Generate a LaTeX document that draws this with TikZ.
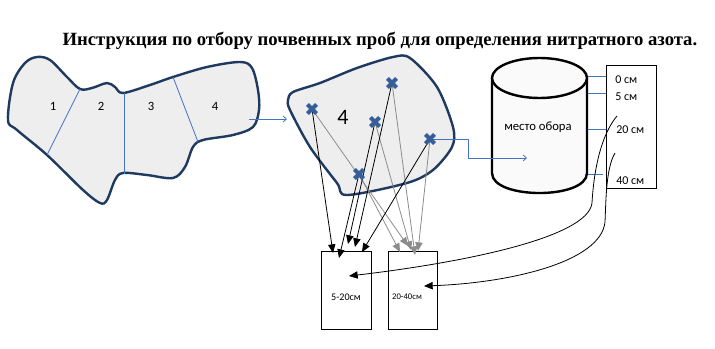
\documentclass[tikz,border=0pt]{standalone}
\usepackage{fontspec}
\setmainfont{Liberation Serif}
\newfontfamily\calfont{Carlito}
\usetikzlibrary{arrows.meta,shapes.misc}
\definecolor{fieldline}{HTML}{1F3A60}
\definecolor{fieldfill}{HTML}{EEEEEE}
\definecolor{divblue}{HTML}{4472C4}
\definecolor{markblue}{HTML}{365E98}
\definecolor{probegray}{HTML}{8C8C8C}
\definecolor{canfill}{HTML}{FAFAFA}
\tikzset{
  field/.style={draw=fieldline, fill=fieldfill, line width=1.8pt},
  divline/.style={draw=divblue, line width=0.6pt},
  bluearrow/.style={divline, -{Straight Barb[length=2.5pt,width=4.5pt]}},
  smark/.style={cross out, draw=markblue, line width=3pt, minimum size=3.8pt, inner sep=0pt},
  toblack/.style={-{Triangle[length=6.5pt,width=5.5pt]}, line width=0.6pt},
  togray/.style={-{Triangle[length=6.5pt,width=5.5pt]}, draw=probegray, line width=0.6pt},
  bag/.style={draw, line width=0.75pt, minimum width=37.5pt, minimum height=58.5pt, inner sep=0pt},
  lbl/.style={font=\calfont\fontsize{9.5}{11}\selectfont},
  depthlbl/.style={font=\calfont\fontsize{9}{10}\selectfont, anchor=west, inner sep=0pt}
}
\begin{document}
\begin{tikzpicture}[x=0.75pt,y=-0.75pt]
\useasboundingbox (0,0) rectangle (715,349);
\node[anchor=base, font=\bfseries\fontsize{14}{16}\selectfont] (title) at (380,46)
  {Инструкция по отбору почвенных проб для определения нитратного азота.};
\draw[field] plot[smooth cycle, tension=0.55] coordinates {
  (8,120) (13,83) (25,63) (37,57) (50,60) (67,77) (80,89) (92,88) (107,83)
  (115,87) (123,93) (150,85) (173,77) (207,67) (240,62) (252,68) (258,90)
  (259,110) (253,127) (233,135) (203,140) (193,147) (185,167) (173,178)
  (147,175) (123,173) (115,180) (107,200) (100,203) (83,190) (47,155) (17,130)};
\draw[divline] (80,89) -- (47,155);
\draw[divline] (124,93) -- (124,174);
\draw[divline] (173,77) -- (198,142);
\node[lbl] (p1) at (53,106) {1};
\node[lbl] (p2) at (101,106) {2};
\node[lbl] (p3) at (151,106) {3};
\node[lbl] (p4) at (215,106) {4};
\coordinate (lout) at (249,119);
\coordinate (fin) at (287,119);
\draw[bluearrow] (lout) -- (fin);
\draw[field] plot[smooth cycle, tension=0.5] coordinates {
  (288,100) (293,92) (320,83) (357,68) (393,57) (410,58) (437,87) (453,127)
  (452,147) (433,170) (407,183) (347,195) (337,183) (310,147) (290,110)};
\node[font=\calfont\fontsize{16.5}{18}\selectfont] (f4) at (343,117) {4};
% cylinder
\draw[line width=1.8pt, fill=canfill] (492,78) -- (492,173)
  .. controls (492,199.7) and (587,199.7) .. (587,173) -- (587,78);
\draw[line width=1.8pt, fill=canfill] (539.5,78) ellipse [x radius=47.5, y radius=20];
\node[lbl] (can) at (538,127) {место обора};
\node[draw, line width=0.75pt, minimum width=37.5pt, minimum height=92.25pt] (depth) at (631,127.5) {};
\node[depthlbl] (d0) at (615,80) {0 см};
\node[depthlbl] (d5) at (615,97) {5 см};
\node[depthlbl] (d20) at (616,130) {20 см};
\node[depthlbl] (d40) at (616,181) {40 см};
\foreach \y/\e in {76/606,93/606,129/606,174/603}
  \draw[divline] (588,\y) -- (\e,\y);
% sample bags
\node[bag] (bag1) at (346,291) {};
\node[bag, minimum width=36.75pt] (bag2) at (412.5,291) {};
\node[font=\calfont\fontsize{7.6}{9}\selectfont] (b1txt) at (346,297) {5-20см};
\node[font=\calfont\fontsize{6.5}{8}\selectfont] (b2txt) at (407,297) {20-40см};
\coordinate (m1) at (312,109);
\coordinate (m2) at (392,83);
\coordinate (m3) at (375,122);
\coordinate (m4) at (430,139);
\coordinate (m5) at (359,174);
\coordinate (k1) at (333,253);
\coordinate (k2) at (339,258);
\coordinate (k3) at (348,244);
\coordinate (k4) at (355,247);
\coordinate (k5) at (362,252);
\coordinate (g1) at (400,252);
\coordinate (g2) at (408,246);
\coordinate (g3) at (411,250);
\coordinate (g4) at (415,255);
\coordinate (g5) at (418,251);
\foreach \s/\t in {m1/g2,m5/g1,m3/g3,m2/g4,m4/g5}
  \draw[togray] (\s) -- (\t);
\foreach \s/\t in {m1/k1,m5/k2,m3/k3,m2/k4,m4/k5}
  \draw[toblack] (\s) -- (\t);
\coordinate (cin) at (527,158);
\draw[bluearrow] (m4) -- ++(38,0) |- (cin);
\foreach \m in {1,...,5}
  \node[smark] (x\m) at (m\m) {};
% curves from the depth scale
\coordinate (s20) at (617,116);
\coordinate (s40) at (615,153);
\coordinate (e20) at (349,276);
\coordinate (e40) at (424,286);
\draw[toblack] (s20) .. controls (597,140) and (593,185) .. (592,203)
  .. controls (588,238) and (460,263) .. (e20);
\draw[toblack] (s40) .. controls (606,168) and (606,200) .. (605,222)
  .. controls (601,262) and (510,283) .. (e40);
\end{tikzpicture}
\end{document}
